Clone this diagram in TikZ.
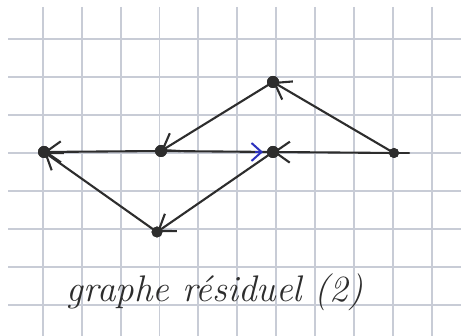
\documentclass[tikz,border=0pt]{standalone}
\usetikzlibrary{arrows.meta}
\definecolor{ink}{RGB}{45,45,45}
\definecolor{gridc}{RGB}{200,204,214}
\definecolor{bluei}{RGB}{45,50,190}
\begin{document}
\begin{tikzpicture}[x=1pt,y=-1pt,
  dot/.style={circle,fill=ink,inner sep=0pt,minimum size=12pt},
  edge/.style={draw=ink,line width=2.1pt,line cap=round},
  arr/.style={edge,-{Straight Barb[length=15pt,width=21pt,line width=2.1pt]}},
  gridl/.style={draw=gridc,line width=1.4pt}]
\fill[white] (0,0) rectangle (461,336);
\useasboundingbox (0,0) rectangle (461,336);
% grid
\foreach \x in {43,82,121,159.5,198,237,276,315,354,393,432} {\draw[gridl] (\x,7) -- (\x,336);}
\foreach \y in {39,77,115,153,191,229,267,305} {\draw[gridl] (8,\y) -- (461,\y);}
% nodes
\node[dot] (A) at (44,152) {};
\node[dot] (B) at (161,151) {};
\node[dot] (C) at (273,82) {};
\node[dot] (D) at (273,152) {};
\node[dot,minimum size=10pt] (E) at (394,153) {};
\node[dot,minimum size=11pt] (F) at (157,232) {};
\coordinate (Eend) at (409,153);
\coordinate (Dblue) at (263,152);
\coordinate (Dblue0) at (255,152);
% edges
\draw[arr] (B.center) -- (A.center);
\draw[arr] (F.center) -- (A.center);
\draw[arr] (C.center) -- (B.center);
\draw[arr] (E.center) -- (C.center);
\draw[arr] (D.center) -- (F.center);
\draw[arr] (E.center) -- (D.center);
\draw[edge] (B.center) -- (D.center);
\draw[edge] (E.center) -- (Eend);
\draw[draw=bluei,line width=2pt,-{Straight Barb[length=10pt,width=18pt,line width=2pt]}] (Dblue0) -- (Dblue);
\node[dot] at (A) {};
\node[dot] at (B) {};
\node[dot] at (C) {};
\node[dot] at (D) {};
\node[dot,minimum size=10pt] at (E) {};
\node[dot,minimum size=11pt] at (F) {};
% label
\node[text=ink,font=\fontsize{37}{44}\selectfont\itshape] (T) at (215,292) {graphe résiduel (2)};
\end{tikzpicture}
\end{document}
